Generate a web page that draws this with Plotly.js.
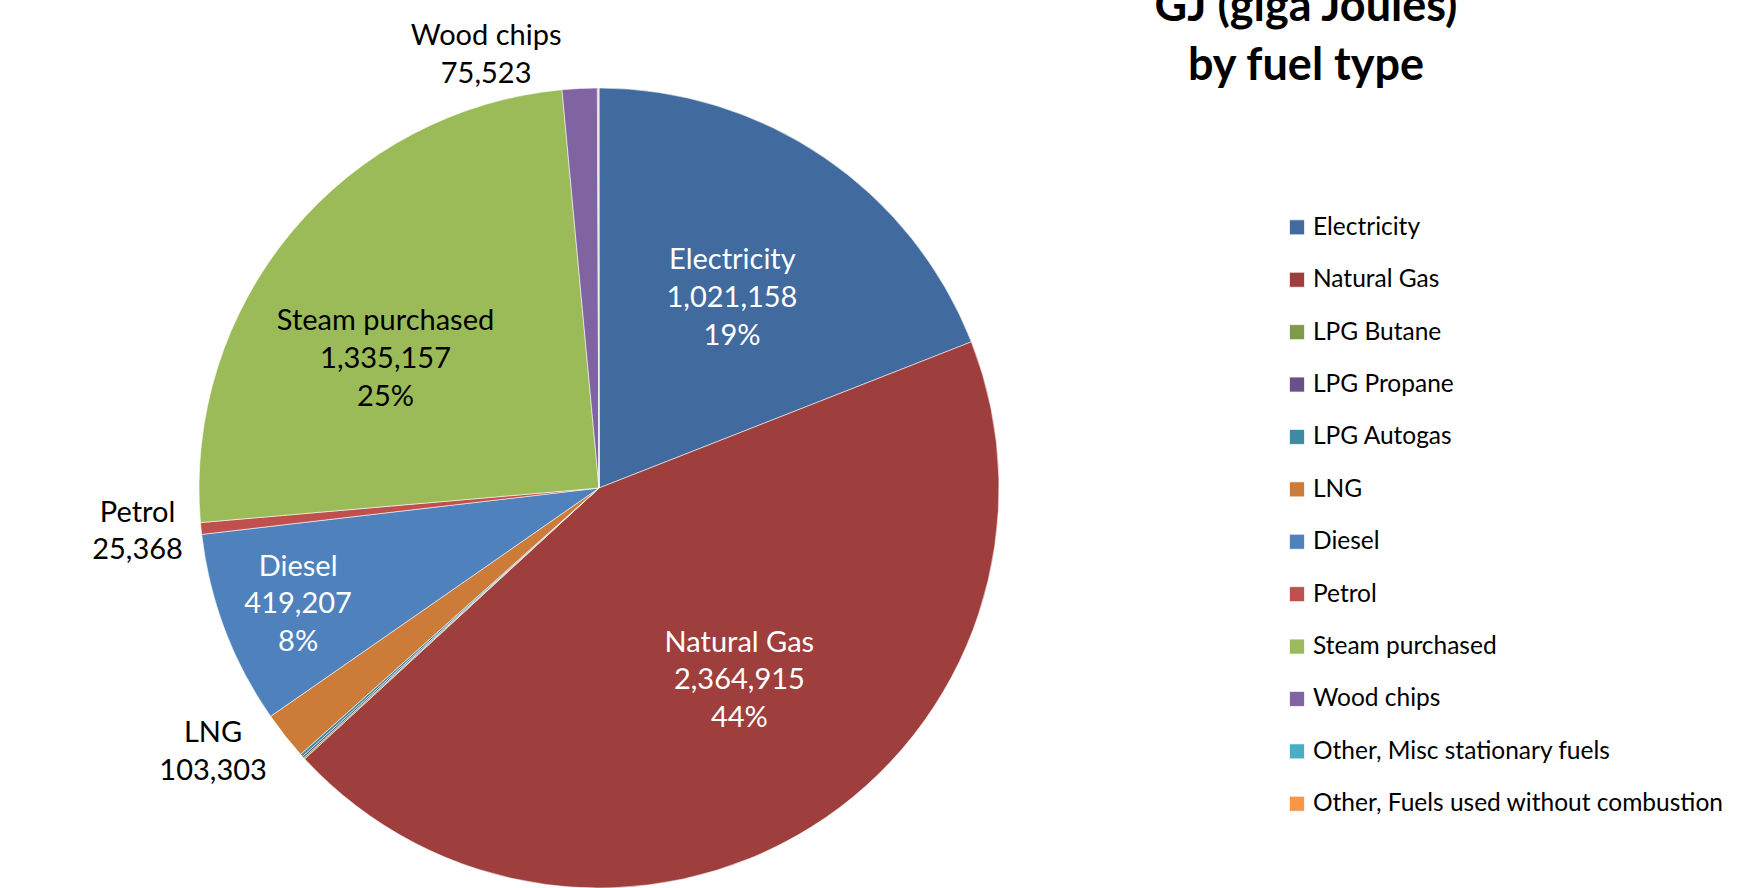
<!DOCTYPE html>
<html>
<head>
<meta charset="utf-8">
<script src="https://cdn.plot.ly/plotly-3.0.1.min.js"></script>
<style>
  html, body { margin: 0; padding: 0; background: #ffffff; overflow: hidden; }
  #chart { width: 1740px; height: 888px; }
  /* slightly larger legend swatches, as in the reference */
  #chart .legendpie { transform: translate(24px, 0px) scale(1.25); }
</style>
</head>
<body>
<div id="chart"></div>
<script>
// ---- data ----
const fuelTypes = [
  'Electricity', 'Natural Gas', 'LPG Butane', 'LPG Propane', 'LPG Autogas', 'LNG',
  'Diesel', 'Petrol', 'Steam purchased', 'Wood chips',
  'Other, Misc stationary fuels', 'Other, Fuels used without combustion'
];
const energyGJ = [1021158, 2364915, 3000, 4000, 6000, 103303, 419207, 25368, 1335157, 75523, 2500, 1000];
const chartTitle = 'GJ (giga Joules)<br>by fuel type';

// ---- styles ----
const sliceColors = ['#416A9F', '#9E3F3D', '#7F9B48', '#685088', '#3C8DA3', '#CC7B38',
                     '#4F81BD', '#C0504D', '#9BBB59', '#8064A2', '#4BACC6', '#F79646'];
const labelPlacement = ['inside', 'inside', 'none', 'none', 'none', 'outside',
                        'inside', 'outside', 'inside', 'outside', 'none', 'none'];
const labelColors = ['#FFFFFF', '#FFFFFF', '#000000', '#000000', '#000000', '#000000',
                     '#FFFFFF', '#000000', '#000000', '#000000', '#000000', '#000000'];
// label nudging inside the slice: [blank line on top, nbsp before, nbsp after]
const labelNudge = [[1, 0, 3], [1, 9, 0], [0, 0, 0], [0, 0, 0], [0, 0, 0], [0, 0, 0],
                    [0, 0, 0], [0, 0, 0], [1, 0, 9], [0, 0, 0], [0, 0, 0], [0, 0, 0]];

const NB = '\u00a0';
function buildTemplate(place, nudge) {
  if (place === 'outside') return '%{text}<br>%{value:,}';
  const pre = NB.repeat(nudge[1]);
  const post = NB.repeat(nudge[2]);
  const lines = ['%{text}', '%{value:,}', '%{percent:.0%}'].map(l => pre + l + post);
  if (nudge[0]) lines.unshift(NB);
  return lines.join('<br>');
}
const templates = labelPlacement.map((p, i) => buildTemplate(p, labelNudge[i]));
// legend entries: visible text plus a blank line to reproduce the roomy spacing
const legendLabels = fuelTypes.map(n => '<span style="font-size:24.5px">' + n + '</span><br> ');

const trace = {
  type: 'pie',
  labels: legendLabels,
  values: energyGJ,
  text: fuelTypes,
  texttemplate: templates,
  textposition: labelPlacement,
  insidetextorientation: 'horizontal',
  textfont: { family: 'Lato', size: 29, color: labelColors },
  marker: { colors: sliceColors, line: { color: 'rgba(255,255,255,0.7)', width: 0.8 } },
  sort: false,
  direction: 'clockwise',
  rotation: 0,
  hoverinfo: 'none',
  domain: { x: [199 / 1740, 999 / 1740], y: [0, 1 - 88 / 888] }
};

const layout = {
  width: 1740,
  height: 888,
  margin: { l: 0, r: 0, t: 0, b: 0, autoexpand: false },
  paper_bgcolor: '#ffffff',
  font: { family: 'Lato', color: '#000000' },
  title: {
    text: chartTitle,
    font: { family: 'Lato', size: 45, weight: 700, color: '#000000' },
    xref: 'container', x: 1306 / 1740, xanchor: 'center',
    yref: 'container', y: 1 - 21 / 888, yanchor: 'bottom'
  },
  showlegend: true,
  legend: {
    orientation: 'v',
    xref: 'container', x: 1273 / 1740, xanchor: 'left',
    yref: 'container', y: 1 - 208.5 / 888, yanchor: 'top',
    maxheight: 800,
    font: { family: 'Lato', size: 19, color: '#000000' },
    valign: 'top',
    bgcolor: 'rgba(0,0,0,0)',
    traceorder: 'normal'
  }
};

Plotly.newPlot('chart', [trace], layout, { staticPlot: true, displayModeBar: false });
</script>
</body>
</html>
